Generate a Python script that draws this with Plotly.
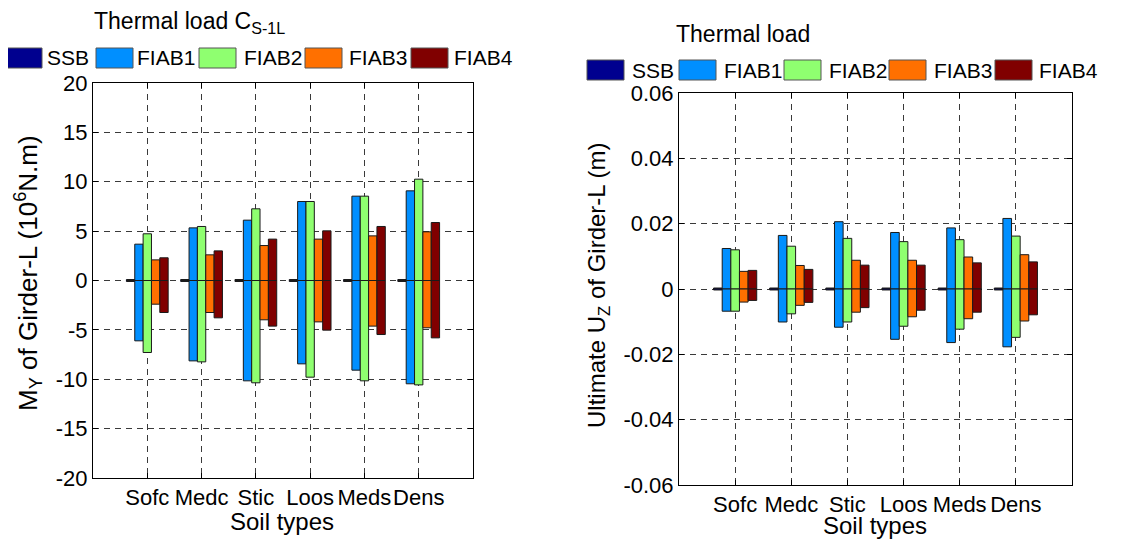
import plotly.graph_objects as go

# ---------------- data ----------------
categories = ["Sofc", "Medc", "Stic", "Loos", "Meds", "Dens"]
series_names = ["SSB", "FIAB1", "FIAB2", "FIAB3", "FIAB4"]
series_colors = ["#00008F", "#008FFF", "#8FFF70", "#FF7000", "#800000"]

# Left chart: M_Y of Girder-L (10^6 N.m), positive / negative envelopes
ssb_my_pos = [0.1, 0.1, 0.1, 0.1, 0.1, 0.1]
ssb_my_neg = [-0.1, -0.1, -0.1, -0.1, -0.1, -0.1]
fiab1_my_pos = [3.68, 5.33, 6.11, 8.00, 8.54, 9.08]
fiab1_my_neg = [-6.11, -8.14, -10.16, -8.44, -9.08, -10.46]
fiab2_my_pos = [4.73, 5.47, 7.26, 8.00, 8.54, 10.26]
fiab2_my_neg = [-7.29, -8.24, -10.36, -9.79, -10.16, -10.57]
fiab3_my_pos = [2.09, 2.60, 3.54, 4.19, 4.52, 4.93]
fiab3_my_neg = [-2.40, -3.24, -3.98, -4.19, -4.62, -4.79]
fiab4_my_pos = [2.30, 3.00, 4.19, 5.03, 5.47, 5.87]
fiab4_my_neg = [-3.24, -3.78, -4.62, -5.03, -5.47, -5.81]

# Right chart: Ultimate U_Z of Girder-L (m)
ssb_uz_pos = [0.0003, 0.0003, 0.0003, 0.0003, 0.0003, 0.0003]
ssb_uz_neg = [-0.0003, -0.0003, -0.0003, -0.0003, -0.0003, -0.0003]
fiab1_uz_pos = [0.0124, 0.0164, 0.0206, 0.0173, 0.0187, 0.0216]
fiab1_uz_neg = [-0.0068, -0.0101, -0.0117, -0.0154, -0.0164, -0.0177]
fiab2_uz_pos = [0.0120, 0.0131, 0.0155, 0.0145, 0.0151, 0.0162]
fiab2_uz_neg = [-0.0068, -0.0076, -0.0101, -0.0114, -0.0123, -0.0148]
fiab3_uz_pos = [0.0054, 0.0072, 0.0088, 0.0088, 0.0098, 0.0105]
fiab3_uz_neg = [-0.0040, -0.0050, -0.0071, -0.0085, -0.0091, -0.0098]
fiab4_uz_pos = [0.0057, 0.0060, 0.0073, 0.0073, 0.0080, 0.0083]
fiab4_uz_neg = [-0.0035, -0.0041, -0.0057, -0.0065, -0.0071, -0.0079]

left_ticks = [-20, -15, -10, -5, 0, 5, 10, 15, 20]
left_ticklabels = ["-20", "-15", "-10", "-5", "0", "5", "10", "15", "20"]
right_ticks = [-0.06, -0.04, -0.02, 0, 0.02, 0.04, 0.06]
right_ticklabels = ["-0.06", "-0.04", "-0.02", "0", "0.02", "0.04", "0.06"]

# ---------------- figure ----------------
OFF = 8                      # browser default body margin
W, H = 1134 - OFF, 539 - OFF
FONT = "Liberation Sans, Arial, Helvetica, sans-serif"

left_pos = [ssb_my_pos, fiab1_my_pos, fiab2_my_pos, fiab3_my_pos, fiab4_my_pos]
left_neg = [ssb_my_neg, fiab1_my_neg, fiab2_my_neg, fiab3_my_neg, fiab4_my_neg]
right_pos = [ssb_uz_pos, fiab1_uz_pos, fiab2_uz_pos, fiab3_uz_pos, fiab4_uz_pos]
right_neg = [ssb_uz_neg, fiab1_uz_neg, fiab2_uz_neg, fiab3_uz_neg, fiab4_uz_neg]

fig = go.Figure()
for panel, (pos_list, neg_list, xa, ya) in enumerate(
        [(left_pos, left_neg, "x", "y"), (right_pos, right_neg, "x2", "y2")]):
    for i, name in enumerate(series_names):
        for vals in (pos_list[i], neg_list[i]):
            fig.add_trace(go.Bar(
                x=categories, y=vals, name=name,
                offsetgroup=f"p{panel}s{i}",
                marker=dict(color=series_colors[i],
                            line=dict(color="#1a1a1a", width=1)),
                xaxis=xa, yaxis=ya, showlegend=False))

def px_x(v):
    return (v - OFF) / W

def px_y(v):
    return 1 - (v - OFF) / H

axis_common = dict(showline=True, linecolor="black", linewidth=1,
                   mirror="ticks", ticks="inside", ticklen=5,
                   tickcolor="black", showgrid=True, gridcolor="#3a3a3a",
                   gridwidth=1, griddash="6px,5px", zeroline=False,
                   automargin=False,
                   tickfont=dict(family=FONT, size=22, color="black"))

fig.update_layout(
    width=W, height=H,
    margin=dict(l=0, r=0, t=0, b=0, autoexpand=False),
    paper_bgcolor="white", plot_bgcolor="white",
    barmode="group", bargap=0.231, bargroupgap=0,
    showlegend=False,
    font=dict(family=FONT, size=20, color="black"),
    xaxis=dict(domain=[px_x(93), px_x(473)], anchor="y",
               range=[-1, 6], tickangle=0, **axis_common),
    yaxis=dict(domain=[px_y(478), px_y(83)], anchor="x",
               range=[-20, 20], tickvals=left_ticks,
               ticktext=left_ticklabels, **axis_common),
    xaxis2=dict(domain=[px_x(679), px_x(1072)], anchor="y2",
                range=[-1, 6], tickangle=0, **axis_common),
    yaxis2=dict(domain=[px_y(485), px_y(93)], anchor="x2",
                range=[-0.06, 0.06], tickvals=right_ticks,
                ticktext=right_ticklabels, **axis_common),
)

annotations = []
shapes = []

def add_text(text, x, y, size, xanchor="left", yanchor="middle", angle=0):
    annotations.append(dict(text=text, x=px_x(x), y=px_y(y), xref="paper",
                            yref="paper", xanchor=xanchor, yanchor=yanchor,
                            showarrow=False, textangle=angle,
                            font=dict(family=FONT, size=size, color="black")))

# titles
add_text("Thermal load C<sub>S-1L</sub>", 92, 23, 23)
add_text("Thermal load", 674, 34, 23)
# axis titles
add_text("Soil types", 282, 521, 24, xanchor="center")
add_text("Soil types", 875, 525, 24, xanchor="center")
add_text("M<sub>Y</sub> of Girder-L (10<sup>6</sup>N.m)", 28, 273, 26,
         xanchor="center", angle=-90)
add_text("Ultimate U<sub>Z</sub> of Girder-L (m)", 598, 286, 24,
         xanchor="center", angle=-90)

# manual legends (box x-start, text x-start per entry)
legend_rows = [
    (58, [5, 96, 199, 305, 411], [45, 135, 242, 347, 452]),
    (70, [587, 679, 784, 889, 995], [630, 722, 827, 932, 1037]),
]
for yc, box_x, text_x in legend_rows:
    for i, name in enumerate(series_names):
        shapes.append(dict(type="rect", xref="paper", yref="paper",
                           x0=px_x(box_x[i]), x1=px_x(box_x[i] + 37),
                           y0=px_y(yc + 10), y1=px_y(yc - 10),
                           fillcolor=series_colors[i],
                           line=dict(color="#555555", width=1)))
        add_text(name, text_x[i], yc, 21)

fig.update_layout(annotations=annotations, shapes=shapes)
fig.write_html("out.html")
